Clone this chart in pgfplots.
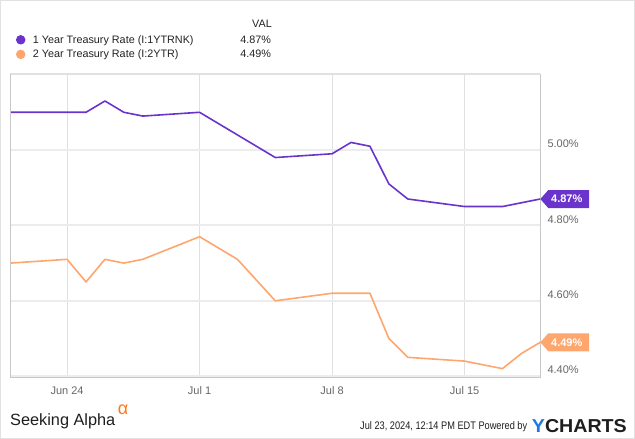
\documentclass[border=0pt]{standalone}
\usepackage{fontspec}
\setmainfont{Liberation Sans}
\usepackage{pgfplots}
\usepackage{pgfplotstable}
\pgfplotsset{compat=1.18}
\definecolor{ypurple}{RGB}{106,52,204}
\definecolor{yorange}{RGB}{253,166,110}
\definecolor{ticktext}{RGB}{102,102,102}
\definecolor{vgrid}{RGB}{224,224,224}
\definecolor{hgrid}{RGB}{236,236,236}
\definecolor{framec}{RGB}{200,200,200}
\definecolor{outerc}{RGB}{225,225,225}
\definecolor{legtext}{RGB}{34,34,34}
\definecolor{saorange}{RGB}{255,120,20}
\definecolor{ycblue}{RGB}{29,122,229}
\definecolor{ycdark}{RGB}{30,30,30}

% day 0 = Jul 1, 2024
\pgfplotstableread{
day val
-10 5.10
-7 5.10
-6 5.10
-5 5.13
-4 5.10
-3 5.09
0 5.10
4 4.98
7 4.99
8 5.02
9 5.01
10 4.91
11 4.87
14 4.85
15 4.85
16 4.85
18 4.87
}\oneyear

\pgfplotstableread{
day val
-10 4.70
-7 4.71
-6 4.65
-5 4.71
-4 4.70
-3 4.71
0 4.77
2 4.71
4 4.60
7 4.62
8 4.62
9 4.62
10 4.50
11 4.45
14 4.44
16 4.42
17 4.46
18 4.49
}\twoyear

\begin{document}
\begin{tikzpicture}
\useasboundingbox (0,0) rectangle (635bp,439bp);
\draw[outerc, line width=1bp] (0.5bp,0.5bp) rectangle (634.5bp,438.5bp);
\begin{axis}[
  at={(10.3bp,61.3bp)}, anchor=south west,
  scale only axis, width=530bp, height=303.7bp,
  xmin=-10, xmax=18, ymin=4.396, ymax=5.2016,
  axis line style={draw=none},
  xtick={-7,0,7,14}, xticklabels={Jun 24,Jul 1,Jul 8,Jul 15},
  ytick={4.4,4.6,4.8,5.0},
  yticklabel pos=right,
  /pgf/number format/assume math mode=true,
  yticklabel={\pgfmathprintnumber[fixed,fixed zerofill,precision=2]{\tick}\%},
  major tick length=0pt,
  xmajorgrids, ymajorgrids,
  major x grid style={vgrid, line width=0.8bp},
  major y grid style={hgrid, line width=2bp},
  tick label style={font=\fontsize{11bp}{13bp}\selectfont, text=ticktext},
  xticklabel style={yshift=-5.3bp},
  yticklabel style={anchor=west, xshift=3.7bp, yshift=6bp},
  clip=false,
  legend style={at={(axis description cs:0.0108,1.128)}, anchor=north west,
    draw=none, fill=none, inner sep=0pt, outer sep=0pt,
    row sep=4.8bp, column sep=7.5bp,
    font=\fontsize{10.8bp}{13bp}\selectfont, text=legtext,
    nodes={inner sep=0pt}},
  legend cell align=left,
  legend image code/.code={\fill[#1] (0bp,0.4bp) circle (3.9bp);},
]
\addplot[ypurple, line width=1.6bp, line join=round] table[x=day,y=val]{\oneyear};
\addlegendentry{\makebox[238bp][l]{1 Year Treasury Rate (I:1YTRNK)\hfill 4.87\%}}
\addplot[yorange, line width=1.6bp, line join=round] table[x=day,y=val]{\twoyear};
\addlegendentry{\makebox[238bp][l]{2 Year Treasury Rate (I:2YTR)\hfill 4.49\%}}

% frame
\draw[outerc, line width=2bp] (rel axis cs:0,1) -- (rel axis cs:1,1);
\draw[framec, line width=1bp] (rel axis cs:0,1) -- (rel axis cs:0,0) -- (rel axis cs:1,0) -- (rel axis cs:1,1);

% end-value tags
\fill[ypurple, shift={(axis cs:18,4.87)}] (0bp,0bp) -- (8bp,9bp) -- (48.7bp,9bp) -- (48.7bp,-9bp) -- (8bp,-9bp) -- cycle;
\node[text=white, font=\bfseries\fontsize{11bp}{13bp}\selectfont, inner sep=0pt, shift={(axis cs:18,4.87)}] at (26.5bp,0bp) {4.87\%};
\fill[yorange, shift={(axis cs:18,4.49)}] (0bp,0bp) -- (8bp,9bp) -- (48.7bp,9bp) -- (48.7bp,-9bp) -- (8bp,-9bp) -- cycle;
\node[text=white, font=\bfseries\fontsize{11bp}{13bp}\selectfont, inner sep=0pt, shift={(axis cs:18,4.49)}] at (26.5bp,0bp) {4.49\%};
\end{axis}

\node[anchor=base east, inner sep=0pt, font=\fontsize{10.8bp}{13bp}\selectfont, text=legtext] at (272bp,411bp) {VAL};

% footer
\node[anchor=base west, inner sep=0pt, font=\fontsize{16.3bp}{18bp}\selectfont, text=ycdark] at (10bp,13.3bp) {Seeking Alpha};
\node[anchor=center, inner sep=0pt, font=\fontsize{18bp}{20bp}\selectfont, text=saorange] at (123bp,29bp) {α};
\node[anchor=base west, inner sep=0pt, font=\fontsize{11bp}{13bp}\selectfont, text=ycdark] at (360bp,9.5bp) {\scalebox{0.838}[1]{Jul 23, 2024, 12:14 PM EDT Powered by}};
\node[anchor=base west, inner sep=0pt, font=\bfseries\fontsize{18.7bp}{20bp}\selectfont] at (531.7bp,6.3bp) {\scalebox{1.05}[1]{\textcolor{ycblue}{Y}\textcolor{ycdark}{CHARTS}}};
\end{tikzpicture}
\end{document}
